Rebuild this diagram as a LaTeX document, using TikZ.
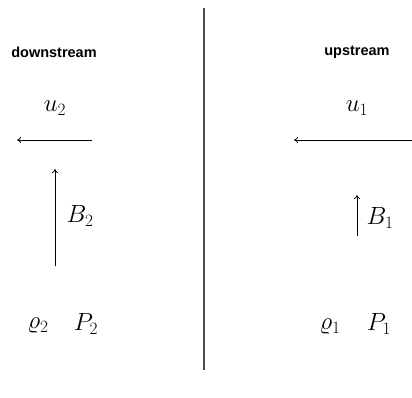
\documentclass[tikz,border=0pt]{standalone}
\usepackage{fontspec}
\usetikzlibrary{arrows.meta}
\newfontfamily\labelfont{Liberation Sans}
\begin{document}
\begin{tikzpicture}[x=1pt,y=-1pt,
  region/.style={font=\labelfont\bfseries\fontsize{14.5}{17}\selectfont, inner sep=0pt},
  qty/.style={font=\fontsize{23}{27}\selectfont, inner sep=0pt},
  vec/.style={-{To[length=4pt,width=6pt]}, line width=0.8pt},
  shock/.style={draw=black!70, line width=1.6pt}]
\useasboundingbox (0,0) rectangle (412,398);
\coordinate (st) at (204,8);
\coordinate (sb) at (204,370);
\draw[shock] (st) -- (sb);
\node[region] (down) at (54,52) {downstream};
\node[region] (up) at (357,52) {upstream};
\node[qty] (u2) at (55,108) {$u_2$};
\node[qty] (u1) at (357,108) {$u_1$};
\coordinate (u2s) at (92,140);
\coordinate (u2e) at (17,140);
\draw[vec] (u2s) -- (u2e);
\coordinate (u1s) at (412,140);
\coordinate (u1e) at (294,140);
\draw[vec] (u1s) -- (u1e);
\coordinate (b2s) at (55,266);
\coordinate (b2e) at (55,169);
\draw[vec] (b2s) -- (b2e);
\node[qty] (B2) at (80,216) {$B_2$};
\coordinate (b1s) at (357,236);
\coordinate (b1e) at (357,195);
\draw[vec] (b1s) -- (b1e);
\node[qty] (B1) at (380,218) {$B_1$};
\node[qty] (r2) at (38,326) {$\varrho_2$};
\node[qty] (P2) at (86,324) {$P_2$};
\node[qty] (r1) at (330,327) {$\varrho_1$};
\node[qty] (P1) at (379,324) {$P_1$};
\end{tikzpicture}
\end{document}
